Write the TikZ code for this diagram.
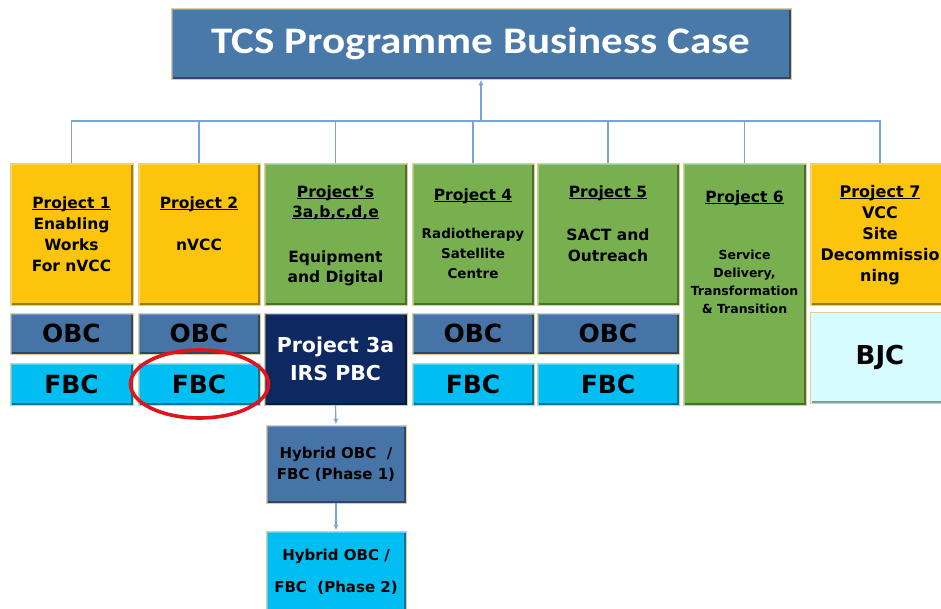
\documentclass[tikz,border=0pt]{standalone}
\usepackage{fontspec}
\setmainfont{DejaVu Sans}
\newfontfamily\titlefont[FakeStretch=1.15]{Carlito}
\usetikzlibrary{shapes.geometric,arrows.meta}
\definecolor{yel}{RGB}{252,196,10}
\definecolor{grn}{RGB}{120,176,80}
\definecolor{obcc}{RGB}{70,116,166}
\definecolor{fbcc}{RGB}{0,190,242}
\definecolor{navy}{RGB}{14,40,98}
\definecolor{bjcc}{RGB}{214,252,255}
\definecolor{ttl}{RGB}{73,121,168}
\definecolor{connc}{RGB}{120,165,215}
\definecolor{edgec}{RGB}{225,205,150}
\definecolor{ringc}{RGB}{225,20,30}
\newcommand\ulx[1]{\setbox0\hbox{#1}\rlap{\rule[-2.2pt]{\wd0}{1.1pt}}\box0}
\newcommand\fs{\rule{0pt}{1em}}
\newcommand\fz[2]{\fontsize{#1}{#2}\selectfont\bfseries}
\tikzset{
  box/.style={fill=#1, draw=edgec, line width=0.9pt, inner sep=0pt,
    path picture={
      \draw[line width=4pt, #1!62!black] (path picture bounding box.south west) -- (path picture bounding box.south east) -- (path picture bounding box.north east);
      \draw[line width=4pt, #1!70!white] (path picture bounding box.south west) -- (path picture bounding box.north west) -- (path picture bounding box.north east);
    }},
  txt/.style={inner sep=0pt, align=center, text=black, anchor=north},
  conn/.style={draw=connc, line width=1.2pt},
  arr/.style={conn, -{Latex[length=6pt,width=5pt]}},
}
\begin{document}
\begin{tikzpicture}[x=1pt,y=-1pt]
\useasboundingbox (0,0) rectangle (941,608);
\clip (0,0) rectangle (941,608);
% title
\node[box=ttl, minimum width=620pt, minimum height=71pt, text=white, font=\titlefont\bfseries\fontsize{37.5}{40}\selectfont] (title) at (481,43.5) {TCS Programme Business Case};
% top row
\node[box=yel, minimum width=123pt, minimum height=142pt] (p1) at (71.5,234) {};
\node[box=yel, minimum width=122pt, minimum height=142pt] (p2) at (199,234) {};
\node[box=grn, minimum width=143pt, minimum height=142pt] (p3) at (335.5,234) {};
\node[box=grn, minimum width=122pt, minimum height=142pt] (p4) at (473,234) {};
\node[box=grn, minimum width=142pt, minimum height=142pt] (p5) at (608,234) {};
\node[box=grn, minimum width=123pt, minimum height=242pt] (p6) at (744.5,284) {};
\node[box=yel, minimum width=140pt, minimum height=142pt] (p7) at (880,234) {};
% top row texts
\node[txt, font=\fz{15.5}{21}] (p1t) at (71.5,192.5) {\fs\ulx{Project 1}\\Enabling\\Works\\For nVCC};
\node[txt, font=\fz{15.5}{21}] (p2t) at (199,192.5) {\fs\ulx{Project 2}\\[21pt]nVCC};
\node[txt, font=\fz{15.5}{20}] (p3t) at (335.5,181.5) {\fs\ulx{Project’s}\\\ulx{3a,b,c,d,e}\\[25pt]Equipment\\and Digital};
\node[txt, font=\fz{15.5}{20}] (p4h) at (473,184.5) {\fs\ulx{Project 4}};
\node[txt, font=\fz{13.5}{20}] (p4b) at (473,224.5) {\fs Radiotherapy\\Satellite\\Centre};
\node[txt, font=\fz{15.5}{21}] (p5t) at (608,181.5) {\fs\ulx{Project 5}\\[22pt]SACT and\\Outreach};
\node[txt, font=\fz{15.5}{20}] (p6h) at (744.5,186.5) {\fs\ulx{Project 6}};
\node[txt, font=\fz{12.5}{18}] (p6b) at (744.5,246.5) {\fs Service\\Delivery,\\Transformation\\\& Transition};
\node[txt, font=\fz{16}{21}] (p7t) at (880,181) {\fs\ulx{Project 7}\\VCC\\Site\\Decommissio\\ning};
% second row
\node[box=obcc, minimum width=123pt, minimum height=41pt, font=\fz{25}{28}] (o1) at (71.5,333.5) {OBC};
\node[box=obcc, minimum width=122pt, minimum height=41pt, font=\fz{25}{28}] (o2) at (199,333.5) {OBC};
\node[box=obcc, minimum width=122pt, minimum height=41pt, font=\fz{25}{28}] (o4) at (473,333.5) {OBC};
\node[box=obcc, minimum width=142pt, minimum height=41pt, font=\fz{25}{28}] (o5) at (608,333.5) {OBC};
\node[box=fbcc, minimum width=123pt, minimum height=42pt, font=\fz{25}{28}] (f1) at (71.5,384) {FBC};
\node[box=fbcc, minimum width=122pt, minimum height=42pt, font=\fz{25}{28}] (f2) at (199,384) {FBC};
\node[box=fbcc, minimum width=122pt, minimum height=42pt, font=\fz{25}{28}] (f4) at (473,384) {FBC};
\node[box=fbcc, minimum width=142pt, minimum height=42pt, font=\fz{25}{28}] (f5) at (608,384) {FBC};
\node[box=navy, minimum width=143pt, minimum height=92pt, text=white, align=center, font=\fz{20.5}{28}] (p3a) at (335.5,359) {Project 3a\\IRS PBC};
\node[box=bjcc, minimum width=140pt, minimum height=91pt, font=\fz{26}{28}] (bjc) at (880,357.5) {BJC};
% hybrid boxes
\node[box=obcc, minimum width=140pt, minimum height=78pt, align=center, font=\fz{15}{21}] (h1) at (336,464) {Hybrid OBC\ \ /\\FBC (Phase 1)};
\node[box=fbcc, minimum width=140pt, minimum height=81pt, align=center, font=\fz{15}{32}] (h2) at (336,571.5) {Hybrid OBC /\\FBC\ \ (Phase 2)};
% red ring
\node[draw=ringc, ellipse, line width=3.6pt, minimum width=138pt, minimum height=68pt, inner sep=0pt] (ring) at (199.5,384) {};
% connectors
\coordinate (hub) at (481,121);
\draw[conn] (p1.north) |- (hub);
\draw[conn] (p2.north) |- (hub);
\draw[conn] (p3.north) |- (hub);
\draw[conn] (p4.north) |- (hub);
\draw[conn] (p5.north) |- (hub);
\draw[conn] (p6.north) |- (hub);
\draw[conn] (p7.north) |- (hub);
\draw[arr] (hub) -- (title.south);
\draw[arr] (p3a.south) -- (h1.north);
\draw[arr] (h1.south) -- (h2.north);
\end{tikzpicture}
\end{document}
